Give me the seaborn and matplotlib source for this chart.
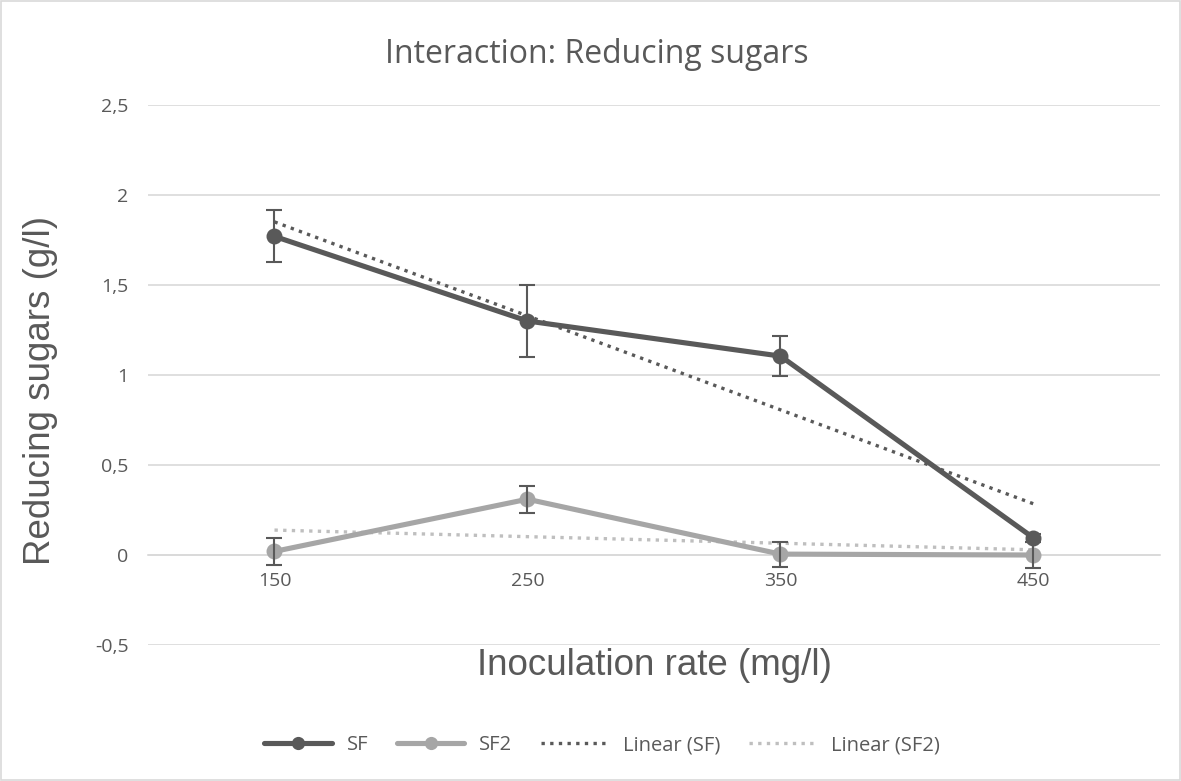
import numpy as np
import pandas as pd
import matplotlib
matplotlib.use("Agg")
import matplotlib.pyplot as plt
from matplotlib.lines import Line2D
from matplotlib.patches import Rectangle
import seaborn as sns

# Data
rates = [150, 250, 350, 450]
sf = [1.77, 1.30, 1.105, 0.095]
sf_err = [0.145, 0.20, 0.11, 0.02]
sf2 = [0.02, 0.31, 0.005, 0.0]
sf2_err = [0.075, 0.075, 0.07, 0.07]
yticks = [-0.5, 0, 0.5, 1, 1.5, 2, 2.5]
ytick_labels = ["-0,5", "0", "0,5", "1", "1,5", "2", "2,5"]

DARK = "#595959"
LIGHT = "#A6A6A6"
TREND2 = "#BFBFBF"
GRID = "#D9D9D9"
TEXT = "#595959"
DOTTED = (0, (1, 1.6))

sns.set_theme(style="white")
plt.rcParams["font.family"] = ["Open Sans", "DejaVu Sans"]
LABEL_FONT = ["Liberation Sans", "DejaVu Sans"]

df = pd.DataFrame({
    "rate": rates * 2,
    "value": sf + sf2,
    "series": ["SF"] * 4 + ["SF2"] * 4,
})

fig = plt.figure(figsize=(11.81, 7.81), dpi=100)
ax = fig.add_axes([0.1253, 0.1741, 0.8569, 0.6915])

# horizontal gridlines
for yv in yticks:
    ax.axhline(yv, color=GRID, lw=1.2, zorder=0)

# linear trendlines
sns.regplot(x=rates, y=sf, ax=ax, scatter=False, ci=None, truncate=True,
            line_kws=dict(color=DARK, lw=2.4, linestyle=DOTTED, zorder=3))
sns.regplot(x=rates, y=sf2, ax=ax, scatter=False, ci=None, truncate=True,
            line_kws=dict(color=TREND2, lw=2.4, linestyle=DOTTED, zorder=3))

# series lines with markers
sns.lineplot(data=df, x="rate", y="value", hue="series",
             palette={"SF": DARK, "SF2": LIGHT}, marker="o", markersize=11.5,
             markeredgewidth=0, linewidth=3.7, ax=ax, legend=False, zorder=4)

# error bars
ax.errorbar(rates, sf, yerr=sf_err, fmt="none", ecolor=DARK, elinewidth=1.5,
            capsize=6, capthick=1.5, zorder=5)
ax.errorbar(rates, sf2, yerr=sf2_err, fmt="none", ecolor=DARK, elinewidth=1.5,
            capsize=6, capthick=1.5, zorder=5)

ax.set_xlim(100, 500)
ax.set_ylim(-0.5, 2.5)
ax.set_yticks(yticks)
ax.set_yticklabels(ytick_labels)
ax.set_xticks(rates)
ax.set_xticklabels([str(r) for r in rates])
for s in ["top", "right", "left"]:
    ax.spines[s].set_visible(False)
ax.spines["bottom"].set_position(("data", 0))
ax.spines["bottom"].set_color(GRID)
ax.spines["bottom"].set_linewidth(1.2)
ax.tick_params(axis="both", length=0, labelsize=14, labelcolor=TEXT)
ax.tick_params(axis="y", pad=14)
ax.tick_params(axis="x", pad=12)
ax.set_xlabel("")
ax.set_ylabel("")

fig.text(0.505, 0.930, "Interaction: Reducing sugars", ha="center", va="center",
         fontsize=23, color=TEXT)
fig.text(0.554, 0.148, "Inoculation rate (mg/l)", ha="center", va="center",
         fontsize=26.5, color=TEXT, family=LABEL_FONT)
fig.text(0.034, 0.500, "Reducing sugars (g/l)", ha="center", va="center",
         rotation=90, fontsize=26.5, color=TEXT, family=LABEL_FONT)

handles = [
    Line2D([], [], color=DARK, lw=3.7, marker="o", markersize=9.5, markeredgewidth=0),
    Line2D([], [], color=LIGHT, lw=3.7, marker="o", markersize=9.5, markeredgewidth=0),
    Line2D([], [], color=DARK, lw=2.4, linestyle=DOTTED),
    Line2D([], [], color=TREND2, lw=2.4, linestyle=DOTTED),
]
labels = ["SF", "SF2", "Linear (SF)", "Linear (SF2)"]
leg = fig.legend(handles, labels, loc="center", bbox_to_anchor=(0.51, 0.046),
                 ncol=4, frameon=False, fontsize=14.5, handlelength=3.35,
                 columnspacing=1.4, handletextpad=0.75)
for t in leg.get_texts():
    t.set_color(TEXT)

fig.patches.append(Rectangle((0.001, 0.001), 0.998, 0.998, transform=fig.transFigure,
                             fill=False, edgecolor=GRID, lw=1.2))

fig.savefig("out.png", dpi=100, facecolor="white")
